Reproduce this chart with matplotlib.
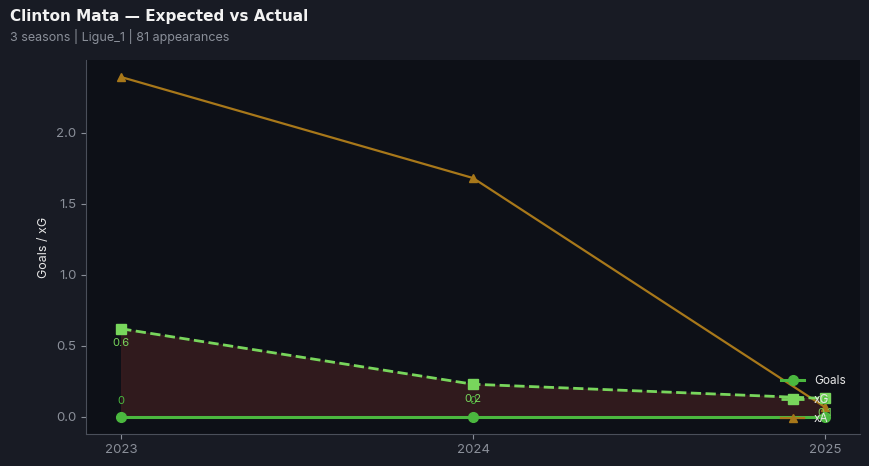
import matplotlib
matplotlib.use("Agg")
import matplotlib.pyplot as plt
import numpy as np

seasons = [2023, 2024, 2025]
goals = [0, 0, 0]
xg = [0.62, 0.23, 0.13]
xa = [2.39, 1.68, 0.07]

bg = "#181b24"
ax_bg = "#0d1017"
c_goals = "#4bb83f"
c_xg = "#78d65c"
c_xa = "#a8781a"

plt.rcParams['font.family'] = ['Inter', 'DejaVu Sans']

fig = plt.figure(figsize=(8.69, 4.66), dpi=100, facecolor=bg)
ax = fig.add_axes([86 / 869, 32 / 466, 774 / 869, 374 / 466])
ax.set_facecolor(ax_bg)

x = np.array(seasons)
ax.fill_between(x, goals, xg, color="#3a1d1f", alpha=0.8, zorder=1)
ax.plot(x, goals, color=c_goals, lw=2.2, marker="o", ms=7, label="Goals", zorder=3)
ax.plot(x, xg, color=c_xg, lw=2, ls="--", marker="s", ms=7, label="xG", zorder=3)
ax.plot(x, xa, color=c_xa, lw=1.6, marker="^", ms=6, label="xA", zorder=2)

for xi, g, v in zip(x, goals, xg):
    ax.annotate(f"{g:g}", (xi, g), xytext=(0, 8), textcoords="offset points",
                ha="center", va="bottom", color=c_goals, fontsize=8)
    ax.annotate(f"{v:.1f}", (xi, v), xytext=(0, -7), textcoords="offset points",
                ha="center", va="top", color=c_xg, fontsize=8)

ax.set_xticks(seasons)
ax.set_xticklabels([str(s) for s in seasons])
ax.set_ylim(-0.12, 2.51)
ax.set_yticks([0.0, 0.5, 1.0, 1.5, 2.0])
ax.set_ylabel("Goals / xG", color="#e6e6e6", fontsize=9)
ax.tick_params(colors="#8a8f99", labelsize=9.5)
for s in ["top", "right"]:
    ax.spines[s].set_visible(False)
for s in ["left", "bottom"]:
    ax.spines[s].set_color("#4a4f5a")

leg = ax.legend(loc="lower right", frameon=False, fontsize=8.5, labelcolor="#e6e6e6",
                labelspacing=0.6, bbox_to_anchor=(0.995, -0.005))

fig.text(10 / 869, 1 - 17 / 466, "Clinton Mata — Expected vs Actual", color="#f2f2f2",
         fontsize=11, fontweight="bold", va="center", family=["DejaVu Sans"])
fig.text(10 / 869, 1 - 37 / 466, "3 seasons | Ligue_1 | 81 appearances", color="#8a8f99",
         fontsize=9, va="center")

fig.savefig("out.png", dpi=100, facecolor=bg)
